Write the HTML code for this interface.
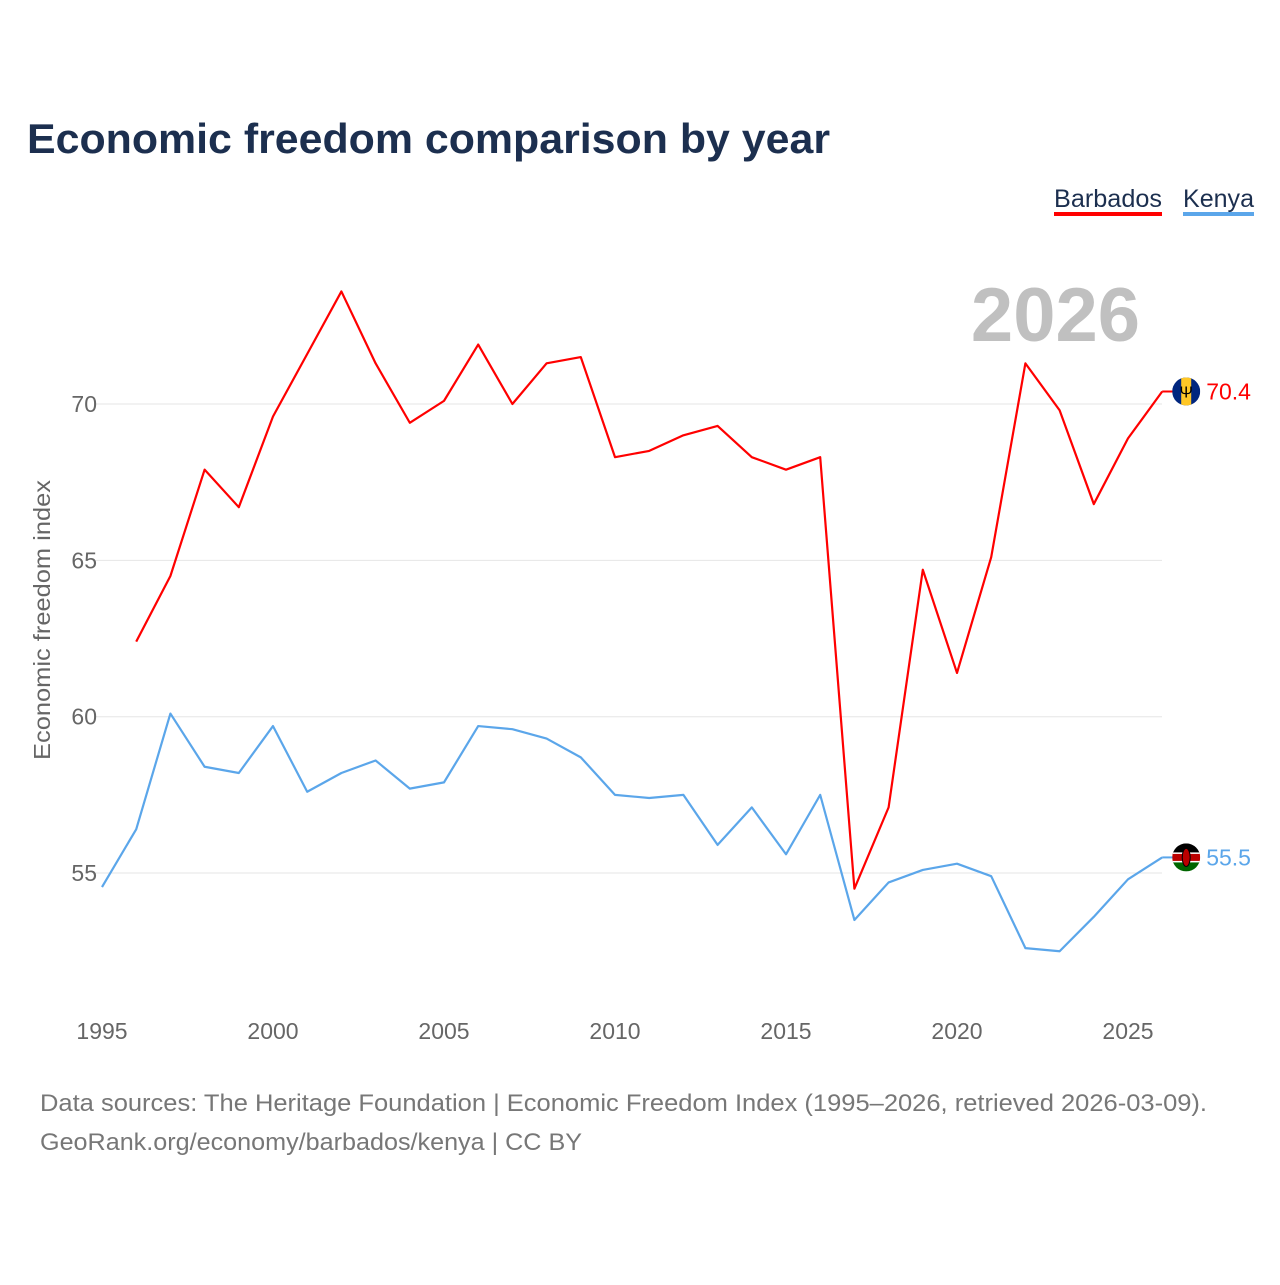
<!DOCTYPE html>
<html><head><meta charset="utf-8"><style>
body{margin:0;background:#fff;font-family:"Liberation Sans",sans-serif}
svg text{font-family:"Liberation Sans",sans-serif}
</style></head><body>
<svg id="chart" width="1280" height="1280" viewBox="0 0 1280 1280" xmlns="http://www.w3.org/2000/svg">
<defs>
<clipPath id="c1"><circle cx="0" cy="0" r="14"/></clipPath>
</defs>
<text x="27" y="153" font-size="42" font-weight="bold" fill="#1c2f4f" textLength="803" lengthAdjust="spacingAndGlyphs">Economic freedom comparison by year</text>
<g><text x="1054" y="207" font-size="25" fill="#1c2f4f" textLength="108" lengthAdjust="spacingAndGlyphs">Barbados</text><rect x="1054" y="212" width="108" height="4" fill="#ff0000"/></g>
<g><text x="1183" y="207" font-size="25" fill="#1c2f4f" textLength="71" lengthAdjust="spacingAndGlyphs">Kenya</text><rect x="1183" y="212" width="71" height="4" fill="#5ba6ea"/></g>
<text x="1140" y="341" text-anchor="end" font-size="76" font-weight="bold" fill="#c0c0c0">2026</text>
<text transform="translate(50,620) rotate(-90)" text-anchor="middle" font-size="23" fill="#666" textLength="280" lengthAdjust="spacingAndGlyphs">Economic freedom index</text>
<g id="grid"></g><g id="series"></g>
<text x="40" y="1111" font-size="24" fill="#777" textLength="1167" lengthAdjust="spacingAndGlyphs">Data sources: The Heritage Foundation | Economic Freedom Index (1995–2026, retrieved 2026-03-09).</text>
<text x="40" y="1150" font-size="24" fill="#777" textLength="542" lengthAdjust="spacingAndGlyphs">GeoRank.org/economy/barbados/kenya | CC BY</text>
</svg>
<script>
const barbadosYears=[1996,1997,1998,1999,2000,2001,2002,2003,2004,2005,2006,2007,2008,2009,2010,2011,2012,2013,2014,2015,2016,2017,2018,2019,2020,2021,2022,2023,2024,2025,2026];
const barbadosValues=[62.4,64.5,67.9,66.7,69.6,71.6,73.6,71.3,69.4,70.1,71.9,70.0,71.3,71.5,68.3,68.5,69.0,69.3,68.3,67.9,68.3,54.5,57.1,64.7,61.4,65.1,71.3,69.8,66.8,68.9,70.4];
const kenyaYears=[1995,1996,1997,1998,1999,2000,2001,2002,2003,2004,2005,2006,2007,2008,2009,2010,2011,2012,2013,2014,2015,2016,2017,2018,2019,2020,2021,2022,2023,2024,2025,2026];
const kenyaValues=[54.55,56.4,60.1,58.4,58.2,59.7,57.6,58.2,58.6,57.7,57.9,59.7,59.6,59.3,58.7,57.5,57.4,57.5,55.9,57.1,55.6,57.5,53.5,54.7,55.1,55.3,54.9,52.6,52.5,53.6,54.8,55.5];
const yTicks=[55,60,65,70];
const xTicks=[1995,2000,2005,2010,2015,2020,2025];
const NS="http://www.w3.org/2000/svg";
const xs=y=>102+(y-1995)*34.2;
const ys=v=>404+(70-v)*31.27;
const grid=document.getElementById('grid'),series=document.getElementById('series');
function mk(tag,attrs,parent){const e=document.createElementNS(NS,tag);for(const k in attrs)e.setAttribute(k,attrs[k]);parent.appendChild(e);return e;}
yTicks.forEach(v=>{
 const l=mk('line',{x1:95,x2:1162,y1:ys(v),y2:ys(v),stroke:'#e6e6e6','stroke-width':1},grid);
 
 
 const t=mk('text',{x:97,y:ys(v)+8,'text-anchor':'end','font-size':23,fill:'#666'},grid);t.textContent=v;
 
 
});
xTicks.forEach(y=>{
 const t=mk('text',{x:xs(y),y:1039,'text-anchor':'middle','font-size':23,fill:'#666'},grid);t.textContent=y;
 
 
});
function draw(years,vals,color,name){
 const p=mk('polyline',{points:years.map((y,i)=>xs(y)+','+ys(vals[i])).join(' '),fill:'none',stroke:color,'stroke-width':2.2,'stroke-linejoin':'round'},series);
 
 
 const lx=xs(years[years.length-1]),ly=ys(vals[vals.length-1]);
 mk('line',{x1:lx,x2:lx+12,y1:ly,y2:ly,stroke:color,'stroke-width':2},series);
 const g=mk('g',{transform:'translate('+(lx+24)+','+ly+')','clip-path':'url(#c1)'},series);
 
 
 if(name==='barbados'){
  mk('rect',{x:-14,y:-14,width:28,height:28,fill:'#00267f'},g);
  mk('rect',{x:-5,y:-14,width:10,height:28,fill:'#ffc726'},g);
  mk('text',{x:0,y:6,'text-anchor':'middle','font-size':16,fill:'#000'},g).textContent='Ψ';
 }else{
  mk('rect',{x:-14,y:-14,width:28,height:10,fill:'#000'},g);
  mk('rect',{x:-14,y:-4,width:28,height:8,fill:'#bb0000'},g);
  mk('rect',{x:-14,y:4,width:28,height:10,fill:'#006600'},g);
  mk('rect',{x:-14,y:-5,width:28,height:1.5,fill:'#fff'},g);
  mk('rect',{x:-14,y:3.5,width:28,height:1.5,fill:'#fff'},g);
  mk('ellipse',{cx:0,cy:0,rx:4,ry:9,fill:'#bb0000',stroke:'#000','stroke-width':1},g);
 }
 const t=mk('text',{x:lx+44,y:ly+8,'font-size':23,fill:color},series);t.textContent=vals[vals.length-1].toFixed(1);
 
 
}
draw(barbadosYears,barbadosValues,'#ff0000','barbados');
draw(kenyaYears,kenyaValues,'#5ba6ea','kenya');
</script>
</body></html>
